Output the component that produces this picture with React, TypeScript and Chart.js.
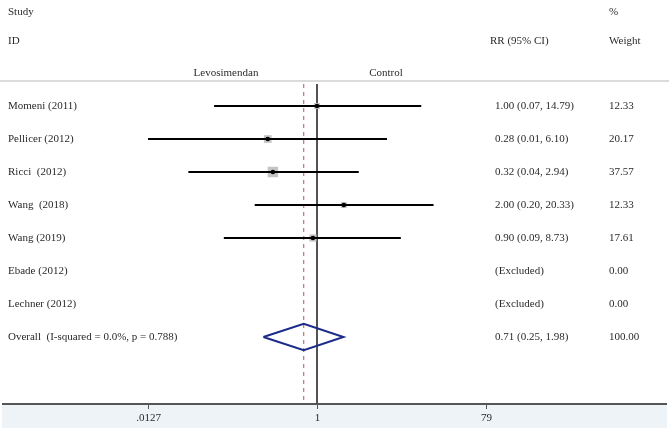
import React, { useEffect, useRef } from "react";
import { Chart, registerables } from "chart.js";

Chart.register(...registerables);

const studies = [
  "Momeni (2011)",
  "Pellicer (2012)",
  "Ricci  (2012)",
  "Wang  (2018)",
  "Wang (2019)",
  "Ebade (2012)",
  "Lechner (2012)",
];
const rr: (number | null)[] = [1.0, 0.28, 0.32, 2.0, 0.9, null, null];
const ciLow: (number | null)[] = [0.07, 0.01, 0.036, 0.2, 0.09, null, null];
const ciHigh: (number | null)[] = [14.79, 6.1, 2.94, 20.33, 8.73, null, null];
const ciText = [
  "1.00 (0.07, 14.79)",
  "0.28 (0.01, 6.10)",
  "0.32 (0.04, 2.94)",
  "2.00 (0.20, 20.33)",
  "0.90 (0.09, 8.73)",
  "(Excluded)",
  "(Excluded)",
];
const weights = [12.33, 20.17, 37.57, 12.33, 17.61, 0.0, 0.0];
const weightText = ["12.33", "20.17", "37.57", "12.33", "17.61", "0.00", "0.00"];

const overallLabel = "Overall  (I-squared = 0.0%, p = 0.788)";
const overallRR = 0.71;
const overallLow = 0.25;
const overallHigh = 1.98;
const overallText = "0.71 (0.25, 1.98)";
const overallWeight = "100.00";

const tickValues = [0.0127, 1, 79];
const tickLabels = [".0127", "1", "79"];

const FONT = '11px "Liberation Serif", "Times New Roman", serif';

export default function App() {
  const ref = useRef<HTMLCanvasElement | null>(null);

  useEffect(() => {
    if (!ref.current) return;
    const overallRow = studies.length;
    const lineTop = -0.667;
    const lineBottom = 9.03;
    const axisMin = tickValues[0];
    const axisMax = tickValues[tickValues.length - 1];

    const datasets: any[] = [];
    // CI lines (clipped to the axis range, as Stata does)
    studies.forEach((s, i) => {
      if (ciLow[i] == null || ciHigh[i] == null) return;
      datasets.push({
        type: "line",
        data: [
          { x: Math.max(ciLow[i] as number, axisMin), y: i },
          { x: Math.min(ciHigh[i] as number, axisMax), y: i },
        ],
        borderColor: "#000000",
        borderWidth: 2,
        pointRadius: 0,
        order: 2,
      });
    });
    // weight squares
    const maxW = Math.max(...weights);
    const sqData: any[] = [];
    const sqRadius: number[] = [];
    studies.forEach((s, i) => {
      if (rr[i] == null) return;
      sqData.push({ x: rr[i], y: i });
      const side = 10.5 * Math.sqrt(weights[i] / maxW);
      sqRadius.push(side / Math.SQRT2);
    });
    datasets.push({
      type: "scatter",
      data: sqData,
      pointStyle: "rect",
      pointRadius: sqRadius,
      backgroundColor: "#c4c4c4",
      borderWidth: 0,
      order: 3,
    });
    // point estimates
    datasets.push({
      type: "scatter",
      data: sqData.map((p) => ({ ...p })),
      pointStyle: "circle",
      pointRadius: 2.3,
      backgroundColor: "#000000",
      borderWidth: 0,
      order: 1,
    });
    // diamond
    datasets.push({
      type: "line",
      data: [
        { x: overallLow, y: overallRow },
        { x: overallRR, y: overallRow - 0.4 },
        { x: overallHigh, y: overallRow },
        { x: overallRR, y: overallRow + 0.4 },
        { x: overallLow, y: overallRow },
      ],
      borderColor: "#1c2a8a",
      borderWidth: 2,
      pointRadius: 0,
      fill: false,
      tension: 0,
      order: 1,
    });
    // null line
    datasets.push({
      type: "line",
      data: [
        { x: 1, y: lineTop },
        { x: 1, y: lineBottom },
      ],
      borderColor: "#3a3a3a",
      borderWidth: 1,
      pointRadius: 0,
      order: 5,
    });
    // overall dashed line
    datasets.push({
      type: "line",
      data: [
        { x: overallRR, y: lineTop },
        { x: overallRR, y: lineBottom },
      ],
      borderColor: "#c0504d",
      borderWidth: 1,
      borderDash: [4, 4],
      pointRadius: 0,
      order: 5,
    });

    const deco = {
      id: "deco",
      beforeDraw(chart: any) {
        const ctx = chart.ctx;
        ctx.save();
        ctx.fillStyle = "#ffffff";
        ctx.fillRect(0, 0, chart.width, chart.height);
        ctx.fillStyle = "#eef3f7";
        ctx.fillRect(2, 404, 665, 24);
        ctx.strokeStyle = "#cfcfcf";
        ctx.lineWidth = 1.5;
        ctx.beginPath();
        ctx.moveTo(0, 81);
        ctx.lineTo(669, 81);
        ctx.stroke();
        ctx.restore();
      },
      afterDraw(chart: any) {
        const ctx = chart.ctx;
        const xs = chart.scales.x;
        const ys = chart.scales.y;
        ctx.save();
        // axis
        ctx.strokeStyle = "#555555";
        ctx.lineWidth = 2;
        ctx.beginPath();
        ctx.moveTo(2, 404);
        ctx.lineTo(667, 404);
        ctx.stroke();
        ctx.lineWidth = 1;
        ctx.fillStyle = "#2a2a2a";
        ctx.font = FONT;
        ctx.textBaseline = "middle";
        tickValues.forEach((v, k) => {
          const px = Math.round(xs.getPixelForValue(v)) + 0.5;
          ctx.beginPath();
          ctx.moveTo(px, 404);
          ctx.lineTo(px, 409);
          ctx.stroke();
          ctx.textAlign = "center";
          ctx.fillText(tickLabels[k], px, 418);
        });
        // headers
        ctx.textAlign = "left";
        ctx.fillText("Study", 8, 12);
        ctx.fillText("%", 609, 12);
        ctx.fillText("ID", 8, 41);
        ctx.fillText("RR (95% CI)", 490, 41);
        ctx.fillText("Weight", 609, 41);
        ctx.textAlign = "center";
        ctx.fillText("Levosimendan", 226, 73);
        ctx.fillText("Control", 386, 73);
        // rows
        ctx.textAlign = "left";
        studies.forEach((s, i) => {
          const py = ys.getPixelForValue(i);
          ctx.fillText(s, 8, py);
          ctx.fillText(ciText[i], 495, py);
          ctx.fillText(weightText[i], 609, py);
        });
        const oy = ys.getPixelForValue(studies.length);
        ctx.fillText(overallLabel, 8, oy);
        ctx.fillText(overallText, 495, oy);
        ctx.fillText(overallWeight, 609, oy);
        ctx.restore();
      },
    };

    const chart = new Chart(ref.current, {
      type: "scatter",
      data: { datasets },
      options: {
        responsive: false,
        animation: false,
        layout: { padding: 0, autoPadding: false },
        plugins: { legend: { display: false }, tooltip: { enabled: false } },
        scales: {
          x: {
            type: "logarithmic",
            display: false,
            min: Math.pow(10, -317 / 89.1),
            max: Math.pow(10, (669 - 317) / 89.1),
          },
          y: {
            type: "linear",
            display: false,
            reverse: true,
            min: -106 / 33,
            max: (430 - 106) / 33,
          },
        },
      },
      plugins: [deco],
    });
    return () => chart.destroy();
  }, []);

  return (
    <div style={{ position: "absolute", left: 0, top: 0, width: 669, height: 430 }}>
      <canvas ref={ref} width={669} height={430} style={{ width: 669, height: 430 }} />
    </div>
  );
}
